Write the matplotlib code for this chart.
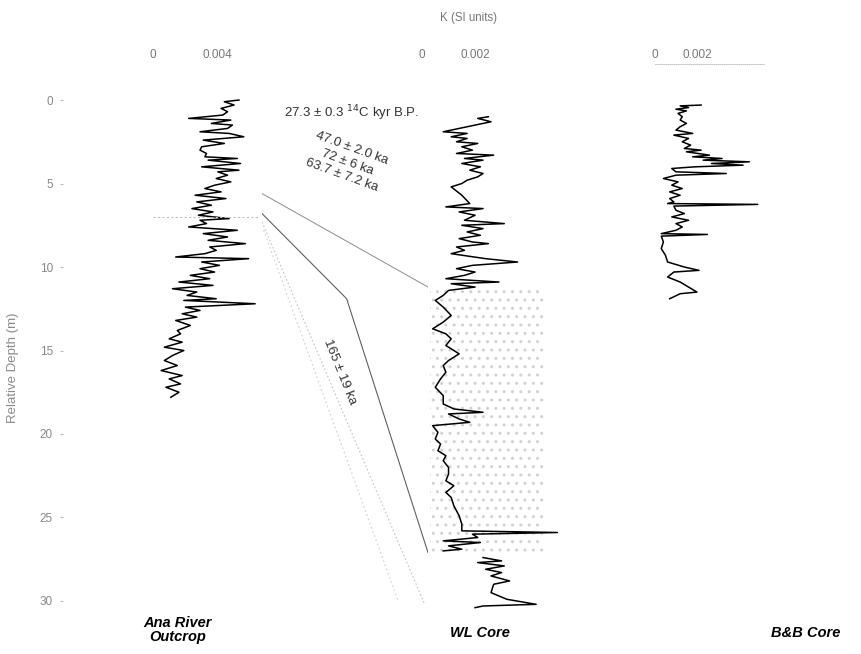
import numpy as np
import matplotlib
matplotlib.use('Agg')
import matplotlib.pyplot as plt

plt.rcParams['font.family'] = ['Liberation Sans', 'DejaVu Sans']

# magnetic susceptibility logs, K in units of 1e-3 SI, depth in m
ana_depth = [0.0, 0.1, 0.3, 0.5, 0.7, 0.9, 1.1, 1.2, 1.4, 1.5, 1.7, 1.9, 2.0, 2.2, 2.4, 2.6,
             2.8, 3.0, 3.2, 3.4, 3.5, 3.6, 3.8, 4.0, 4.2, 4.3, 4.5, 4.7, 4.9, 5.1, 5.3, 5.5,
             5.7, 5.9, 6.1, 6.3, 6.5, 6.7, 6.9, 7.1, 7.2, 7.4, 7.6, 7.8, 8.0, 8.2, 8.4, 8.6,
             8.8, 9.0, 9.2, 9.4, 9.5, 9.7, 9.9, 10.1, 10.3, 10.5, 10.7, 10.9, 11.1, 11.3,
             11.5, 11.7, 11.9, 12.0, 12.2, 12.4, 12.6, 12.8, 13.0, 13.2, 13.5, 13.8, 14.0,
             14.3, 14.5, 14.8, 15.0, 15.3, 15.6, 15.9, 16.2, 16.5, 16.7, 17.0, 17.2, 17.5, 17.8]
ana_k = [5.3, 4.4, 5.0, 4.2, 4.6, 4.3, 2.2, 4.8, 3.6, 4.9, 4.6, 2.9, 4.7, 5.6, 3.1, 4.4,
         3.0, 2.9, 3.3, 3.2, 5.2, 3.4, 5.4, 3.0, 5.3, 4.0, 4.6, 3.9, 4.8, 3.8, 3.2, 4.2,
         2.6, 4.5, 2.7, 3.6, 2.4, 3.7, 2.8, 4.7, 2.9, 3.3, 2.2, 5.2, 3.1, 4.6, 3.4, 5.7,
         3.5, 3.9, 3.2, 1.4, 5.9, 3.0, 4.1, 2.9, 3.8, 2.3, 3.5, 1.6, 3.7, 1.2,
         2.7, 2.1, 3.9, 1.9, 6.3, 2.0, 2.9, 1.8, 2.7, 1.4, 2.3, 1.5, 1.7,
         1.0, 1.8, 0.7, 1.9, 1.2, 0.7, 1.5, 0.5, 1.8, 1.0, 1.7, 0.8, 1.6, 1.1]

wl_depth = [1.0, 1.1, 1.3, 1.5, 1.7, 1.9, 2.0, 2.2, 2.3, 2.5, 2.6, 2.8, 3.0, 3.2, 3.3, 3.5,
            3.6, 3.8, 4.0, 4.2, 4.4, 4.6, 4.8, 5.0, 5.2, 5.7, 6.2, 6.4, 6.5, 6.7, 6.9, 7.2,
            7.4, 7.5, 7.7, 7.9, 8.1, 8.3, 8.5, 8.6, 8.8, 9.0, 9.2, 9.5, 9.7, 9.9, 10.1, 10.3,
            10.5, 10.7, 10.9, 11.0, 11.2, 11.4, 11.7, 12.0, 12.4, 12.9, 13.3, 13.7, 14.0,
            14.3, 14.7, 15.2, 15.6, 15.9, 16.3, 16.7, 17.2, 17.7, 18.2, 18.5, 18.7, 18.8,
            19.1, 19.3, 19.5, 19.9, 20.3, 20.6, 21.0, 21.3, 21.6, 22.0, 22.4, 22.8, 23.1,
            23.5, 23.8, 24.3, 24.9, 25.4, 25.8, 25.9, 26.0, 26.2, 26.4, 26.5, 26.7, 26.9, 27.0]
wl_k = [2.5, 2.1, 2.6, 2.0, 1.4, 0.8, 1.7, 1.1, 1.7, 1.3, 2.1, 1.5, 1.9, 1.3, 2.7, 1.6,
        2.3, 1.5, 2.2, 1.8, 2.3, 2.1, 1.7, 1.5, 1.1, 1.5, 1.8, 0.9, 2.3, 1.4, 2.0, 1.6,
        3.1, 1.5, 2.3, 1.7, 2.2, 1.4, 1.9, 2.5, 1.3, 1.6, 1.1, 2.4, 3.6, 1.9, 1.3, 2.0,
        1.6, 0.9, 2.9, 1.1, 2.0, 1.0, 0.8, 0.5, 0.8, 1.1, 0.8, 0.4, 0.9,
        1.1, 0.9, 1.4, 1.0, 0.8, 0.9, 0.7, 0.5, 0.8, 0.8, 1.2, 2.3, 1.0,
        1.4, 1.8, 0.4, 0.6, 0.5, 0.7, 0.6, 0.9, 0.8, 1.0, 1.0, 0.9, 1.2,
        0.9, 1.1, 1.2, 1.4, 1.5, 1.5, 5.1, 1.9, 2.1, 0.8, 2.2, 1.0, 1.5, 0.8]

wl_lower_depth = [27.4, 27.6, 27.7, 27.9, 28.1, 28.3, 28.5, 28.8, 29.0, 29.5, 29.9, 30.2, 30.3, 30.4]
wl_lower_k = [2.3, 3.0, 2.1, 3.1, 2.4, 3.0, 2.6, 3.3, 2.7, 2.6, 3.2, 4.3, 2.3, 2.0]

bb_depth = [0.3, 0.35, 0.45, 0.55, 0.65, 0.8, 1.0, 1.2, 1.4, 1.6, 1.8, 2.0, 2.1, 2.3, 2.5,
            2.7, 2.9, 3.0, 3.1, 3.3, 3.4, 3.5, 3.6, 3.7, 3.8, 3.9, 4.0, 4.1, 4.3, 4.4, 4.5,
            4.7, 4.9, 5.1, 5.3, 5.5, 5.7, 5.9, 6.1, 6.2, 6.25, 6.35, 6.6, 6.8, 7.0, 7.2,
            7.4, 7.6, 7.8, 8.0, 8.05, 8.15, 8.5, 8.9, 9.3, 9.7, 10.0, 10.2, 10.3, 10.6,
            10.9, 11.2, 11.5, 11.6, 11.9]
bb_k = [2.2, 1.2, 1.6, 1.0, 1.5, 1.1, 1.3, 1.2, 1.5, 1.2, 1.0, 1.8, 0.9, 1.6, 1.3,
        1.7, 1.4, 2.2, 1.5, 2.6, 1.8, 3.2, 2.3, 4.5, 2.7, 4.2, 1.9, 0.8, 1.0, 3.4, 1.0,
        0.4, 1.1, 0.8, 1.3, 0.7, 1.2, 0.7, 0.9, 0.6, 4.9, 0.9, 1.0, 1.4, 0.8, 1.6,
        1.0, 1.3, 1.0, 0.3, 2.5, 0.3, 0.4, 0.3, 0.5, 0.6, 1.4, 2.1, 0.9, 0.6,
        1.2, 1.6, 2.0, 1.2, 0.7]

# stippled interval of the WL core (depth top/bottom, K left/right)
wl_stipple_depth = [11.2, 27.1]
wl_stipple_k = [0.3, 4.6]

# tie lines between Ana River and WL core: (Ana depth, WL depth)
tie_upper = [5.6, 11.2]
tie_lower = [6.8, 11.9, 27.1]
tie_dotted_a = [7.3, 30.2]
tie_dotted_b = [7.8, 30.0]
ana_marker_depth = 7.0

depth_ticks = [0, 5, 10, 15, 20, 25, 30]
ana_ticks = [0, 0.004]
wl_ticks = [0, 0.002]
bb_ticks = [0, 0.002]
tick_labels_ana = ['0', '0.004']
tick_labels_core = ['0', '0.002']

W, H = 861, 654
fig = plt.figure(figsize=(W / 100, H / 100), dpi=100)


def box(x0, x1):
    return [x0 / W, (H - 615) / H, (x1 - x0) / W, 535 / H]


ax_ana = fig.add_axes(box(153, 260))
ax_wl = fig.add_axes(box(422, 560), sharey=ax_ana)
ax_bb = fig.add_axes(box(655, 764), sharey=ax_ana)
ax_link = fig.add_axes(box(262, 428), sharey=ax_ana)
ax_ana.set_ylim(30.84, -1.2)

for ax, xmax, ticks, labels in [(ax_ana, 0.0066, ana_ticks, tick_labels_ana),
                                (ax_wl, 0.0052, wl_ticks, tick_labels_core),
                                (ax_bb, 0.0052, bb_ticks, tick_labels_core)]:
    ax.set_facecolor('none')
    ax.set_xlim(0, xmax)
    ax.spines[['top', 'bottom', 'left', 'right']].set_visible(False)
    ax.xaxis.set_ticks_position('top')
    ax.set_xticks(ticks)
    ax.set_xticklabels(labels)
    ax.tick_params(axis='x', length=0, pad=14, labelsize=8.5, labelcolor='#777777')
    ax.tick_params(axis='y', left=False, labelleft=False)

# depth scale sits well left of the Ana River log
ax_ana.spines['left'].set_position(('outward', 65))
ax_ana.set_yticks(depth_ticks)
ax_ana.tick_params(axis='y', left=True, labelleft=True, length=2, color='#bbbbbb',
                   labelsize=8.5, labelcolor='#888888', pad=5)

# dotted rule under the B&B scale; labels keep the same height as the others
ax_bb.spines['top'].set_visible(True)
ax_bb.spines['top'].set_position(('outward', 11.5))
ax_bb.spines['top'].set_linestyle((0, (1, 1.5)))
ax_bb.spines['top'].set_color('#bbbbbb')
ax_bb.spines['top'].set_linewidth(0.6)
ax_bb.tick_params(axis='x', pad=2.5)

scale = 1e-3
ax_ana.plot(np.array(ana_k) * scale, ana_depth, color='black', lw=1.1)
ax_ana.axhline(ana_marker_depth, color='#c0c0c0', lw=0.8, ls=(0, (2, 2)))

ax_wl.fill_betweenx(wl_stipple_depth, wl_stipple_k[0] * scale, wl_stipple_k[1] * scale,
                    facecolor='none', edgecolor='#d2d2d2', hatch='..', linewidth=0)
ax_wl.plot(np.array(wl_k) * scale, wl_depth, color='black', lw=1.1)
ax_wl.plot(np.array(wl_lower_k) * scale, wl_lower_depth, color='black', lw=1.1)

ax_bb.plot(np.array(bb_k) * scale, bb_depth, color='black', lw=1.1)

# correlation lines drawn across the gap between the two logs
ax_link.set_xlim(0, 1)
ax_link.axis('off')
ax_link.plot([0, 1], tie_upper, color='#8c8c8c', lw=0.7)
ax_link.plot([0, 0.51, 1], tie_lower, color='#606060', lw=0.8)
ax_link.plot([0, 0.98], tie_dotted_a, color='#c4c4c4', lw=0.8, ls=(0, (1.5, 2)))
ax_link.plot([0.01, 0.82], tie_dotted_b, color='#d0d0d0', lw=0.8, ls=(0, (1.5, 2.5)))

fig.text(468 / W, 1 - 18 / H, 'K (SI units)', fontsize=8.3, color='#777777',
         ha='center', va='center')
fig.text(13 / W, 1 - 368 / H, 'Relative Depth (m)', fontsize=9.5, color='#8a8a8a',
         rotation=90, ha='center', va='center')
fig.text(352 / W, 1 - 113 / H, '27.3 ± 0.3 $^{14}$C kyr B.P.', fontsize=9.5,
         color='#333333', ha='center', va='center')
fig.text(347 / W, 1 - 162 / H, '47.0 ± 2.0 ka\n72 ± 6 ka\n63.7 ± 7.2 ka', fontsize=9.5,
         color='#333333', ha='center', va='center', rotation=-20,
         multialignment='center', linespacing=1.25)
fig.text(340 / W, 1 - 372 / H, '165 ± 19 ka', fontsize=9.5, color='#333333',
         ha='center', va='center', rotation=-68)

title_kw = dict(fontsize=10.5, fontweight='bold', fontstyle='italic', ha='center',
                va='center', color='black', linespacing=0.95)
fig.text(178 / W, 1 - 630 / H, 'Ana River\nOutcrop', **title_kw)
fig.text(480 / W, 1 - 633 / H, 'WL Core', **title_kw)
fig.text(806 / W, 1 - 633 / H, 'B&B Core', **title_kw)

fig.savefig('out.png', dpi=100, facecolor='white')
